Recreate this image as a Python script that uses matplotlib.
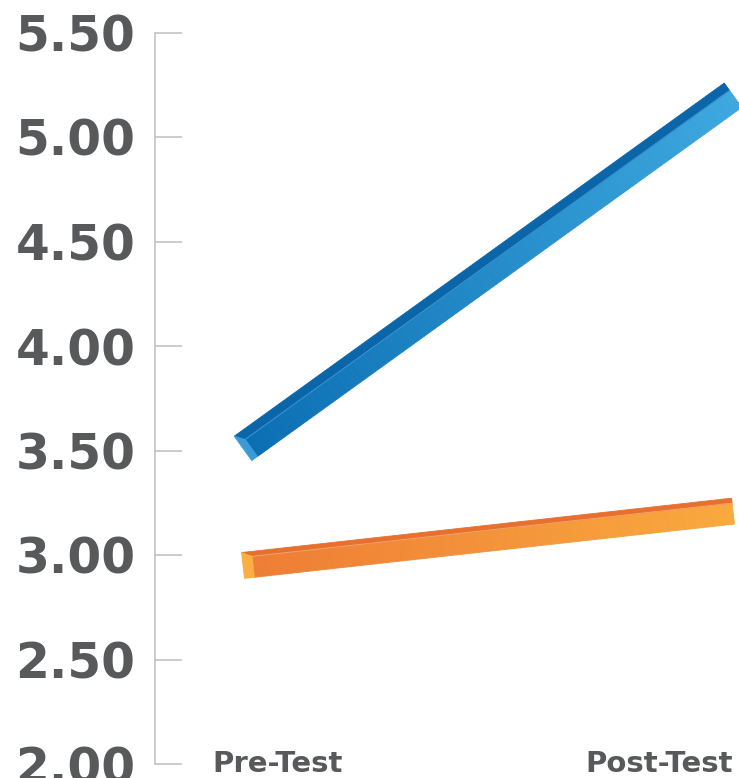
import matplotlib
matplotlib.use("Agg")
import matplotlib.pyplot as plt
import numpy as np
from matplotlib.patches import Polygon
from matplotlib.colors import to_rgb

# Scores at the two test points
categories = ["Pre-Test", "Post-Test"]
blue_scores = [3.51, 5.20]
orange_scores = [2.95, 3.21]
y_ticks = [2.0, 2.5, 3.0, 3.5, 4.0, 4.5, 5.0, 5.5]

TEXT_COLOR = "#58595b"
AXIS_COLOR = "#bdbec0"

plt.rcParams["font.family"] = ["DejaVu Sans"]


def draw_bar(ax, xs, ys, width, top, cap, top_color, cap_color,
             front_left, front_right, edge_color, n_slices=90):
    """Draws a line between two points as a square 3D prism (sizes in px)."""
    to_px = ax.transData.transform
    to_data = ax.transData.inverted().transform
    p0, p1 = to_px(np.column_stack([xs, ys]))
    u = (p1 - p0) / np.hypot(*(p1 - p0))
    n = np.array([-u[1], u[0]])
    outer = width / 2
    split = width / 2 - top

    def poly(pts, color, z):
        ax.add_patch(Polygon(to_data(np.array(pts)), closed=True,
                             facecolor=color, edgecolor=color,
                             linewidth=0.6, zorder=z))

    # top face
    poly([p0 + n * outer, p1 + n * outer, p1 + n * split,
          p0 + n * split + u * cap], top_color, 3)

    # front face, sliced so the colour runs left to right
    a0 = p0 + n * split + u * cap
    b0 = p0 - n * outer + u * cap
    a1 = p1 + n * split
    b1 = p1 - n * outer
    c0, c1 = np.array(to_rgb(front_left)), np.array(to_rgb(front_right))
    for i in range(n_slices):
        t0, t1 = i / n_slices, (i + 1) / n_slices
        col = c0 + (c1 - c0) * (t0 + t1) / 2
        poly([a0 + (a1 - a0) * t0, a0 + (a1 - a0) * t1,
              b0 + (b1 - b0) * t1, b0 + (b1 - b0) * t0], col, 2)

    # thin highlight where the two faces meet
    edge = to_data(np.array([a0, a1]))
    ax.plot(edge[:, 0], edge[:, 1], color=edge_color, lw=0.7,
            alpha=0.8, zorder=4)

    # left end cap
    poly([p0 + n * outer, a0, b0, p0 - n * outer], cap_color, 3)


fig = plt.figure(figsize=(7.39, 7.78), dpi=100)
ax = fig.add_axes([155 / 739, 14 / 778, 584 / 739, 731.5 / 778])
ax.set_xlim(-0.1796, 1.0122)
ax.set_ylim(2.0, 5.5)

x = np.arange(len(categories))

for side in ["top", "right", "bottom"]:
    ax.spines[side].set_visible(False)
ax.spines["left"].set_color(AXIS_COLOR)
ax.spines["left"].set_linewidth(1.1)

ax.set_xticks([])
ax.set_yticks(y_ticks)
ax.set_yticklabels([f"{v:.2f}" for v in y_ticks], fontsize=35,
                   fontweight="bold", color=TEXT_COLOR)
ax.tick_params(axis="y", direction="in", length=19.5, width=1.1,
               color=AXIS_COLOR, pad=14)

draw_bar(ax, x, orange_scores, width=26, top=5, cap=10,
         top_color="#e8702e", cap_color="#fbae41",
         front_left="#ee7d35", front_right="#f9a93e",
         edge_color="#f7b27a")
draw_bar(ax, x, blue_scores, width=30, top=9, cap=7,
         top_color="#0a66a9", cap_color="#3a9ad6",
         front_left="#0b6fb3", front_right="#3ea8df",
         edge_color="#4aa3dc")

# category labels under the axis
label_style = dict(textcoords="offset points", va="baseline", fontsize=21,
                   fontweight="bold", color=TEXT_COLOR, annotation_clip=False)
ax.annotate(categories[0], xy=(x[0], 2.0), xytext=(-22.3, -5.5),
            ha="left", **label_style)
ax.annotate(categories[1], xy=(x[1], 2.0), xytext=(0, -5.5),
            ha="right", **label_style)

fig.savefig("out.png", dpi=100)
